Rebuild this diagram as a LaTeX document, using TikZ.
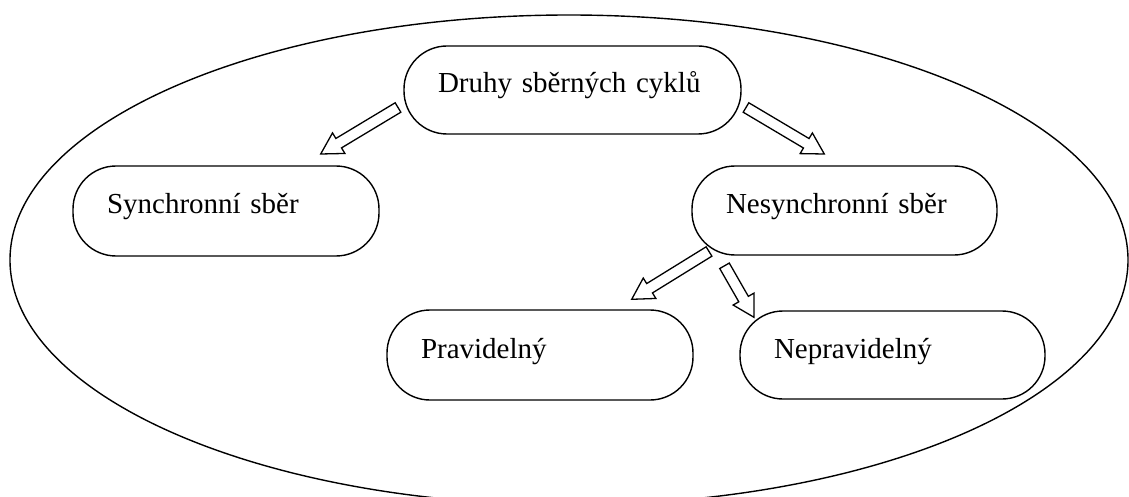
\documentclass[tikz,border=0pt]{standalone}
\usepackage{fontspec}
\setmainfont{Liberation Serif}
\usetikzlibrary{calc}

% outlined block arrow from #1 (tail) to #2 (tip)
\newcommand{\blockarr}[2]{%
  \coordinate (hb) at ($(#2)!21pt!(#1)$);
  \draw[arrowline]
    ($(#1)!5.5pt!90:(#2)$) -- ($(hb)!5.5pt!90:(#2)$) --
    ($(hb)!12pt!90:(#2)$) -- (#2) --
    ($(hb)!12pt!-90:(#2)$) -- ($(hb)!5.5pt!-90:(#2)$) --
    ($(#1)!5.5pt!-90:(#2)$) -- cycle;
}

\tikzset{
  pill/.style={draw, line width=1.4pt, rounded corners=43pt, fill=white,
    inner xsep=34pt, inner ysep=0pt, align=left,
    text height=11pt, text depth=5pt,
    font=\fontsize{29}{34}\selectfont},
  arrowline/.style={draw, fill=white, line width=1.3pt, line join=miter},
  outline/.style={draw, line width=1.4pt}
}

\begin{document}
\begin{tikzpicture}[x=1pt, y=-1pt]
  \useasboundingbox (0,0) rectangle (1129,497);
  \clip (0,0) rectangle (1129,497);

  % enclosing ellipse
  \draw[outline] (569,260) ellipse [x radius=559, y radius=245];

  % category boxes
  \node[pill, minimum width=337pt, minimum height=88pt, text width=269pt]
    (root) at (572.5,90) {Druhy sběrných cyklů};
  \node[pill, minimum width=306pt, minimum height=90pt, text width=238pt]
    (sync) at (226,211) {Synchronní sběr};
  \node[pill, minimum width=305pt, minimum height=89pt, text width=237pt]
    (async) at (844.5,210.5) {Nesynchronní sběr};
  \node[pill, minimum width=306pt, minimum height=90pt, text width=238pt]
    (reg) at (540,355) {Pravidelný};
  \node[pill, minimum width=305pt, minimum height=88pt, text width=237pt]
    (irreg) at (892.5,355) {Nepravidelný};

  % arrow ends
  \coordinate (a1s) at (398,107.5);   \coordinate (a1t) at (320.7,154);
  \coordinate (a2s) at (746,107.5);   \coordinate (a2t) at (824.3,154);
  \coordinate (a3s) at (709,251.5);   \coordinate (a3t) at (631.7,299.3);
  \coordinate (a4s) at (724.5,265.8); \coordinate (a4t) at (754,317.3);

  \blockarr{a1s}{a1t}
  \blockarr{a2s}{a2t}
  \blockarr{a3s}{a3t}
  \blockarr{a4s}{a4t}
\end{tikzpicture}
\end{document}
